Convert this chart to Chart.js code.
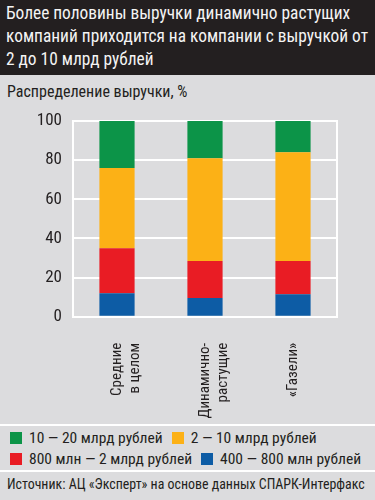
<!DOCTYPE html>
<html>
<head>
<meta charset="utf-8">
<script src="https://cdn.jsdelivr.net/npm/chart.js@4.4.1/dist/chart.umd.min.js"></script>
<style>
body { margin: 0; background: #dcdcde; font-family: "Roboto Condensed", sans-serif; }
#page { position: relative; width: 375px; height: 500px; overflow: hidden; background: #dcdcde; }
#titleBand { position: absolute; left: 0; top: 0; width: 375px; height: 75px; background: #231f20; }
#title { position: absolute; left: 6px; top: 1px; color: #f4f4f4; font-size: 19px; line-height: 23px;
  white-space: nowrap; transform-origin: 0 0; }
#subtitle { position: absolute; left: 7px; top: 82px; font-size: 16px; color: #231f20; line-height: 20px; white-space: nowrap; }
#chartBox { position: absolute; left: 0; top: 108px; width: 375px; height: 314px; }
.sep { position: absolute; left: 0; width: 375px; height: 2px; background: #fff; }
#legend { position: absolute; left: 10px; top: 429px; width: 365px; font-size: 15.5px; color: #231f20; }
.lrow { height: 21px; white-space: nowrap; }
.litem { display: inline-block; margin-right: 9px; line-height: 16px; }
.lbox { display: inline-block; width: 12px; height: 12px; margin-right: 7px; vertical-align: -1px; }
#source { position: absolute; left: 7px; top: 474px; font-size: 15px; color: #231f20; line-height: 20px;
  white-space: nowrap; transform-origin: 0 0; }
</style>
</head>
<body>
<div id="page">
  <div id="titleBand"></div>
  <div id="title">Более половины выручки динамично растущих<br>компаний приходится на компании с выручкой от<br>2 до 10 млрд рублей</div>
  <div id="subtitle">Распределение выручки, %</div>
  <div id="chartBox"><canvas id="chart"></canvas></div>
  <div class="sep" style="top:424px"></div>
  <div id="legend"></div>
  <div class="sep" style="top:470px"></div>
  <div id="source">Источник: АЦ «Эксперт» на основе данных СПАРК-Интерфакс</div>
</div>
<script>
// categories (x axis)
const categories = [["Средние", "в целом"], ["Динамично-", "растущие"], ["«Газели»"]];

// shares of revenue, %
const rev400to800 = [12, 9.5, 11.5];
const rev800to2000 = [23, 19, 17];
const rev2to10 = [41, 52.5, 55.5];
const rev10to20 = [24, 19, 16];

const seriesNames = ["400 — 800 млн рублей", "800 млн — 2 млрд рублей", "2 — 10 млрд рублей", "10 — 20 млрд рублей"];
const seriesColors = ["#0d5ca5", "#e91c24", "#fcb116", "#0c9448"];
const yTicks = [0, 20, 40, 60, 80, 100];

// squeeze wide text blocks to the width they have in the original
function fitWidth(id, w) {
  const el = document.getElementById(id);
  const k = Math.min(1, w / el.scrollWidth);
  el.style.transform = "scaleX(" + k + ")";
}
fitWidth("title", 362);
fitWidth("source", 358);

const ctx = document.getElementById("chart");

new Chart(ctx, {
  type: "bar",
  data: {
    labels: categories,
    datasets: [rev400to800, rev800to2000, rev2to10, rev10to20].map((d, i) => ({
      label: seriesNames[i],
      data: d,
      backgroundColor: seriesColors[i],
      borderWidth: 0,
      barPercentage: 0.4,
      categoryPercentage: 1
    }))
  },
  options: {
    responsive: true,
    maintainAspectRatio: false,
    animation: false,
    devicePixelRatio: 1,
    layout: { padding: { top: 13, right: 38, left: 0, bottom: 0 } },
    plugins: {
      legend: { display: false },
      tooltip: { enabled: false }
    },
    scales: {
      x: {
        stacked: true,
        grid: { display: false },
        border: { display: true, color: "#fff", width: 2 },
        ticks: {
          color: "#231f20",
          font: { family: "Roboto Condensed", size: 15, lineHeight: 1.2 },
          minRotation: 90,
          maxRotation: 90,
          padding: 18
        },
        afterFit: s => { s.height = 105.3; s.paddingLeft = 0; s.paddingRight = 0; }
      },
      y: {
        stacked: true,
        min: 0,
        max: 100,
        afterBuildTicks: s => { s.ticks = yTicks.map(v => ({ value: v })); },
        grid: { color: "#fff", lineWidth: 2, drawTicks: false },
        border: { display: true, color: "#fff", width: 2 },
        ticks: {
          color: "#231f20",
          font: { family: "Roboto Condensed", size: 17 },
          padding: 11
        },
        // plot edges are fixed by the layout padding, not by label size
        afterFit: s => { s.width = 73; s.paddingTop = 0; s.paddingBottom = 0; }
      },
      yRight: {
        position: "right",
        min: 0,
        max: 100,
        grid: { display: false },
        border: { display: true, color: "#fff", width: 2 },
        ticks: { display: false },
        afterFit: s => { s.width = 0; s.paddingTop = 0; s.paddingBottom = 0; }
      }
    }
  }
});

// legend: green, orange / red, blue
const legendRows = [[3, 2], [1, 0]];
const legendEl = document.getElementById("legend");
legendRows.forEach(row => {
  const r = document.createElement("div");
  r.className = "lrow";
  row.forEach(i => {
    const it = document.createElement("span");
    it.className = "litem";
    it.innerHTML = '<span class="lbox" style="background:' + seriesColors[i] + '"></span>' + seriesNames[i];
    r.appendChild(it);
  });
  legendEl.appendChild(r);
});
</script>
</body>
</html>
